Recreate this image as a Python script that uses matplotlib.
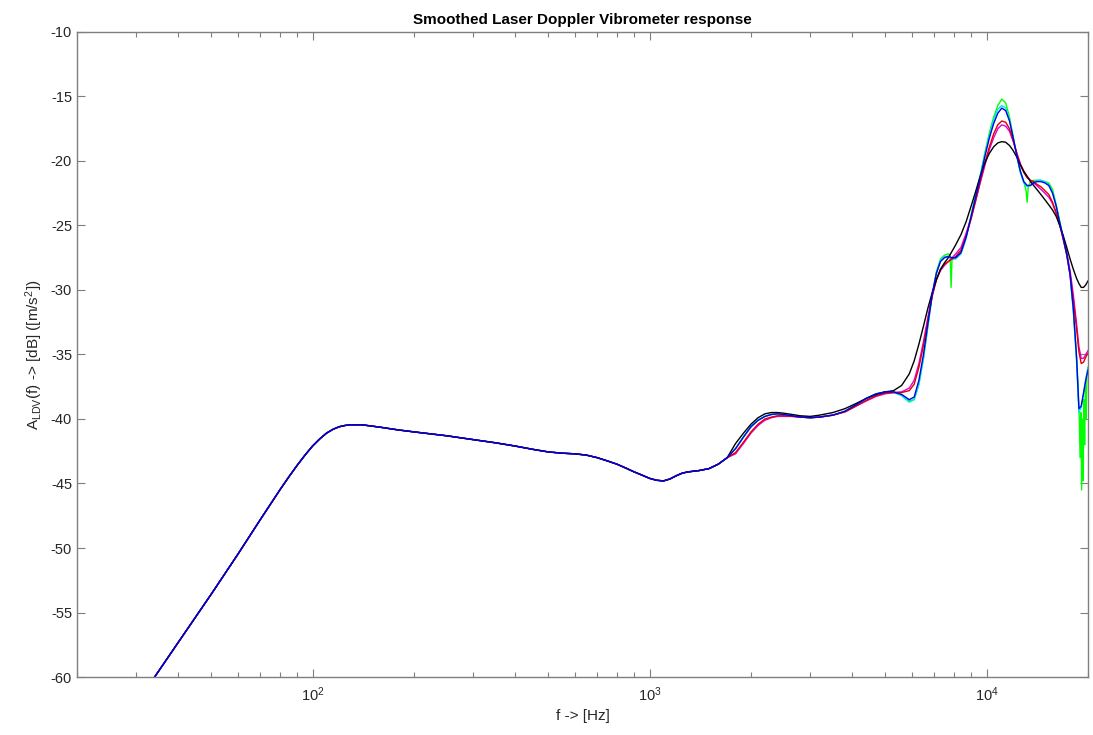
import math
import matplotlib
matplotlib.use("Agg")
import matplotlib.pyplot as plt
from matplotlib.ticker import FixedLocator, LogLocator, NullFormatter, FuncFormatter

plt.rcParams['font.family'] = ['Liberation Sans', 'DejaVu Sans']
plt.rcParams['mathtext.fontset'] = 'custom'
plt.rcParams['mathtext.rm'] = 'Liberation Sans'
plt.rcParams['mathtext.it'] = 'Liberation Sans'
plt.rcParams['axes.unicode_minus'] = False

# ---- data ----
# shared low-frequency part (all smoothings coincide here)
lf_f = [20, 30, 34, 40, 50, 60, 70, 80, 85, 90, 95, 100, 105, 110, 115, 120, 125, 130,
        140, 150, 160, 180, 200, 250, 300, 350, 400, 450, 500, 550, 600, 650, 700, 750,
        800, 850, 900, 950, 1000, 1050, 1100, 1150, 1200, 1250, 1300, 1400, 1500, 1600,
        1700]
lf_db = [-68.5, -62.2, -60.0, -57.3, -53.6, -50.5, -47.8, -45.5, -44.5, -43.6, -42.8,
         -42.1, -41.55, -41.1, -40.8, -40.6, -40.5, -40.45, -40.45, -40.55, -40.65,
         -40.85, -41.0, -41.3, -41.6, -41.85, -42.1, -42.35, -42.55, -42.65, -42.7,
         -42.8, -43.0, -43.25, -43.5, -43.8, -44.1, -44.35, -44.6, -44.75, -44.8,
         -44.65, -44.4, -44.2, -44.1, -44.0, -43.85, -43.5, -43.0]

# high-frequency part, per smoothing
hf_f = [1800, 1900, 2000, 2100, 2200, 2300, 2400, 2500, 2650, 2800, 3000, 3200, 3500,
        3800, 4100, 4400, 4700, 5000, 5300, 5600, 5900, 6100, 6300, 6500, 6700, 6900,
        7100, 7300, 7500, 7700, 7900, 8100, 8400, 8700, 9000, 9300, 9600, 9900, 10200,
        10500, 10800, 11100, 11400, 11700, 12000, 12300, 12600, 12900, 13200, 13500,
        13800, 14100, 14500, 14900, 15300, 15700, 16100, 16500, 16900, 17300, 17700,
        18100, 18500, 18800, 19100, 19400, 19700, 20000]

blue_db = [-42.3, -41.4, -40.6, -40.1, -39.8, -39.65, -39.6, -39.65, -39.75, -39.85,
           -39.9, -39.85, -39.7, -39.4, -38.9, -38.4, -38.05, -37.9, -37.9, -38.1,
           -38.5, -38.3, -37.0, -35.0, -32.6, -30.3, -28.7, -27.8, -27.5, -27.4,
           -27.5, -27.5, -27.1, -25.9, -24.3, -22.7, -21.2, -19.6, -18.2, -17.1,
           -16.3, -15.9, -16.1, -16.9, -18.2, -19.6, -20.8, -21.6, -21.9, -21.9,
           -21.7, -21.6, -21.6, -21.7, -21.9, -22.5, -23.5, -24.8, -26.0, -27.2,
           -28.8, -31.5, -35.2, -39.2, -39.0, -38.0, -37.0, -36.2]
cyan_db = [-42.3, -41.4, -40.6, -40.1, -39.8, -39.65, -39.6, -39.65, -39.75, -39.85,
           -39.9, -39.85, -39.7, -39.4, -38.9, -38.4, -38.05, -37.9, -37.95, -38.2,
           -38.7, -38.5, -37.3, -35.3, -32.8, -30.4, -28.7, -27.7, -27.4, -27.4,
           -27.6, -27.6, -27.2, -26.0, -24.3, -22.6, -21.1, -19.4, -18.0, -16.8,
           -16.0, -15.7, -15.9, -16.8, -18.2, -19.6, -20.9, -21.7, -22.0, -21.9,
           -21.6, -21.5, -21.5, -21.6, -21.8, -22.4, -23.5, -24.8, -26.1, -27.3,
           -28.9, -31.7, -35.5, -39.5, -39.1, -38.0, -36.9, -36.0]
red_db = [-42.6, -41.8, -41.0, -40.4, -40.0, -39.85, -39.75, -39.75, -39.8, -39.85,
          -39.9, -39.85, -39.7, -39.45, -39.0, -38.55, -38.2, -38.0, -37.95, -37.95,
          -37.8, -37.3, -36.0, -34.3, -32.3, -30.5, -29.2, -28.4, -28.0, -27.8,
          -27.6, -27.4, -26.9, -25.8, -24.5, -23.0, -21.5, -20.1, -18.9, -17.9,
          -17.2, -16.9, -17.0, -17.5, -18.4, -19.4, -20.3, -20.9, -21.3, -21.5,
          -21.6, -21.8, -22.0, -22.3, -22.6, -23.2, -24.0, -25.0, -26.1, -27.3,
          -28.8, -30.8, -33.0, -34.8, -35.7, -35.6, -35.2, -34.9]
magenta_db = [-42.7, -41.9, -41.1, -40.5, -40.1, -39.9, -39.8, -39.8, -39.8, -39.85,
              -39.9, -39.85, -39.7, -39.45, -39.0, -38.6, -38.25, -38.05, -37.95, -37.9,
              -37.6, -37.0, -35.7, -34.0, -32.1, -30.4, -29.2, -28.5, -28.1, -27.8,
              -27.5, -27.2, -26.7, -25.6, -24.4, -23.0, -21.6, -20.3, -19.1, -18.2,
              -17.5, -17.2, -17.3, -17.7, -18.5, -19.4, -20.2, -20.8, -21.2, -21.5,
              -21.7, -21.9, -22.2, -22.5, -22.8, -23.3, -24.1, -25.0, -26.0, -27.1,
              -28.5, -30.4, -32.6, -34.4, -35.3, -35.3, -35.0, -34.7]
black_db = [-41.9, -41.1, -40.4, -39.9, -39.6, -39.5, -39.5, -39.55, -39.65, -39.75,
            -39.8, -39.7, -39.5, -39.2, -38.8, -38.4, -38.1, -37.9, -37.8, -37.4,
            -36.5, -35.5, -34.2, -32.8, -31.4, -30.2, -29.2, -28.4, -27.9, -27.5,
            -27.0, -26.5, -25.7, -24.7, -23.5, -22.3, -21.1, -20.1, -19.4, -18.9,
            -18.6, -18.5, -18.55, -18.8, -19.2, -19.7, -20.3, -20.8, -21.2, -21.6,
            -21.9, -22.2, -22.6, -23.0, -23.4, -23.8, -24.3, -25.0, -25.8, -26.7,
            -27.6, -28.4, -29.1, -29.5, -29.8, -29.8, -29.6, -29.3]

# unsmoothed (green) high-frequency part, with its narrow notches
green_hf_f = [1800, 1900, 2000, 2100, 2200, 2300, 2400, 2500, 2650, 2800, 3000, 3200,
              3500, 3800, 4100, 4400, 4700, 5000, 5300, 5600, 5900, 6100, 6300, 6500,
              6700, 6900, 7100, 7300, 7500, 7700, 7800, 7850, 7900, 8100, 8400, 8700,
              9000, 9300, 9600, 9900, 10200, 10500, 10800, 11100, 11400, 11700, 12000,
              12300, 12600, 12900, 13100, 13200, 13300, 13500, 13800, 14100, 14500,
              14900, 15300, 15700, 16100, 16500, 16900, 17300, 17700, 18100, 18500,
              18700, 18850, 18950, 19050, 19150, 19250, 19350, 19450, 19550, 19650,
              19750, 19850, 20000]
green_hf_db = [-42.3, -41.4, -40.6, -40.1, -39.8, -39.65, -39.6, -39.65, -39.75, -39.85,
               -39.9, -39.85, -39.7, -39.4, -38.9, -38.4, -38.05, -37.9, -37.9, -38.1,
               -38.6, -38.5, -37.3, -35.3, -32.8, -30.4, -28.6, -27.6, -27.3, -27.2,
               -27.3, -29.8, -27.6, -27.5, -27.1, -25.9, -24.2, -22.5, -21.0, -19.3,
               -17.8, -16.6, -15.7, -15.2, -15.5, -16.6, -18.1, -19.6, -20.8, -21.6,
               -22.3, -23.2, -22.0, -21.6, -21.5, -21.5, -21.5, -21.6, -21.7, -22.2,
               -23.4, -24.7, -26.0, -27.2, -28.8, -31.5, -35.2, -37.5, -40.0, -43.0,
               -39.5, -45.5, -40.0, -44.8, -38.5, -42.0, -37.5, -40.0, -36.8, -36.0]

yticks = [-60, -55, -50, -45, -40, -35, -30, -25, -20, -15, -10]
xmajor = [1e2, 1e3, 1e4]
title = "Smoothed Laser Doppler Vibrometer response"
xlabel = "f -> [Hz]"
ylabel = r"A$_{\mathrm{LDV}}$(f) -> [dB] ([m/s$^{2}$])"

# ---- figure ----
fig = plt.figure(figsize=(10.93, 7.35), dpi=100)
ax = fig.add_axes([0.0704, 0.0789, 0.925, 0.8776])

series = [
    (lf_f + green_hf_f, lf_db + green_hf_db, '#00ff00'),
    (lf_f + hf_f, lf_db + cyan_db, '#00e5e5'),
    (lf_f + hf_f, lf_db + magenta_db, '#e000e0'),
    (lf_f + hf_f, lf_db + red_db, '#e00000'),
    (lf_f + hf_f, lf_db + black_db, '#000000'),
    (lf_f + hf_f, lf_db + blue_db, '#0000ee'),
]
for f, d, c in series:
    ax.plot(f, d, color=c, lw=1.0)

ax.set_xscale('log')
ax.set_xlim(20, 20000)
ax.set_ylim(-60, -10)
ax.set_yticks(yticks)
ax.xaxis.set_major_locator(FixedLocator(xmajor))
ax.xaxis.set_major_formatter(FuncFormatter(lambda v, p: r"$\mathregular{10^{%d}}$" % round(math.log10(v))))
ax.xaxis.set_minor_locator(LogLocator(base=10, subs=range(2, 10)))
ax.xaxis.set_minor_formatter(NullFormatter())

grey = '#7f7f7f'
for s in ax.spines.values():
    s.set_color(grey)
    s.set_linewidth(1.0)
ax.tick_params(which='both', direction='in', top=True, right=True, color=grey,
               labelsize=10.5, labelcolor='#262626')
ax.tick_params(which='major', length=6, width=0.8)
ax.tick_params(which='minor', length=3.5, width=0.8)
ax.tick_params(axis='x', pad=6)

ax.set_title(title, fontsize=11, fontweight='bold', pad=6)
ax.set_xlabel(xlabel, fontsize=11, color='#262626', labelpad=4)
ax.set_ylabel(ylabel, fontsize=11, color='#262626', labelpad=4)

fig.savefig('out.png', dpi=100)
